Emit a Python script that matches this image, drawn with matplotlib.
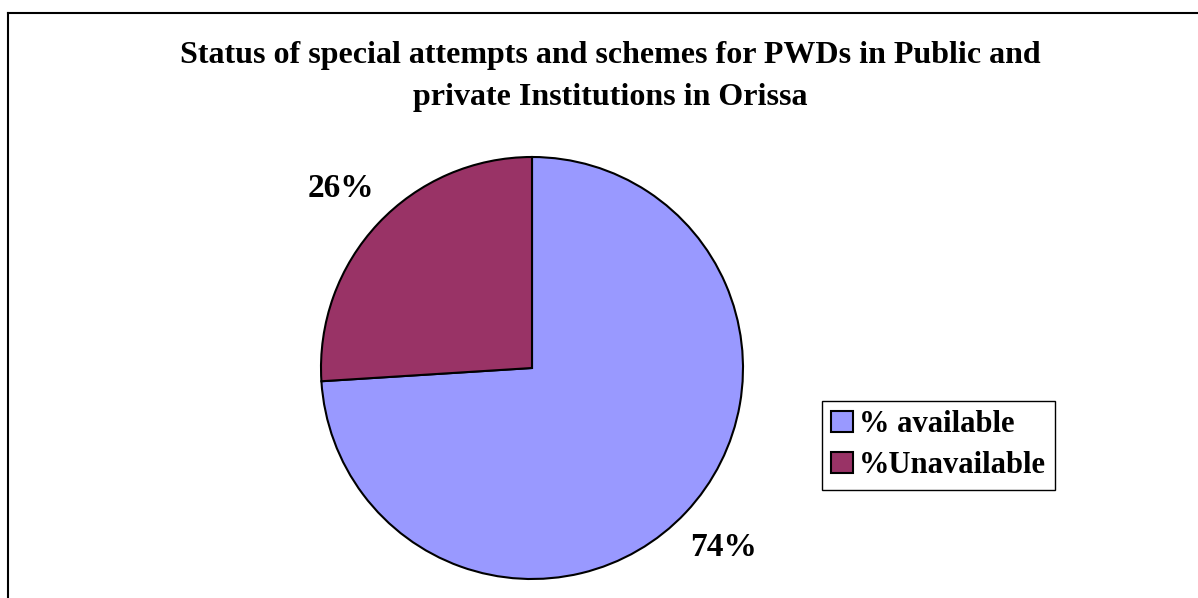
import matplotlib.pyplot as plt
from matplotlib.lines import Line2D

labels = ['% available', '%Unavailable']
shares = [74, 26]
colors = ['#9999FF', '#993366']
title = 'Status of special attempts and schemes for PWDs in Public and\nprivate Institutions in Orissa'

W, H = 1198, 598
fig = plt.figure(figsize=(W / 100, H / 100), dpi=100)
plt.rcParams['font.family'] = 'Liberation Serif'

# pie centred at (532, 368) px with radius 211 px
cx, cy, r = 532, 368, 211
ax = fig.add_axes([(cx - r) / W, (H - cy - r) / H, 2 * r / W, 2 * r / H])
wedges, texts, autotexts = ax.pie(
    shares, colors=colors, startangle=90, counterclock=False,
    autopct='%1.0f%%', pctdistance=1.245,
    wedgeprops=dict(edgecolor='black', linewidth=1.5),
    textprops=dict(fontsize=24, fontweight='bold', color='black'))
ax.set_xlim(-1, 1)
ax.set_ylim(-1, 1)
ax.set_aspect('auto')
ax.axis('off')

fig.text(610 / W, 1 - 41 / H, title, ha='center', va='top',
         fontsize=23, fontweight='bold', linespacing=1.6)

leg = fig.legend(wedges, labels, loc='upper left',
                 bbox_to_anchor=(822 / W, 1 - 401 / H), borderaxespad=0,
                 prop=dict(size=22, weight='bold'), fancybox=False,
                 edgecolor='black', framealpha=1, handlelength=0.7,
                 handleheight=0.7, handletextpad=0.2, borderpad=0.3,
                 labelspacing=0.4)
leg.get_frame().set_linewidth(1)

# chart area border (left and top edges visible)
fig.add_artist(Line2D([8 / W, 8 / W], [0, 1 - 13 / H], color='black', lw=1.5))
fig.add_artist(Line2D([8 / W, 1], [1 - 13 / H, 1 - 13 / H], color='black', lw=1.5))

fig.savefig('out.png', dpi=100)
